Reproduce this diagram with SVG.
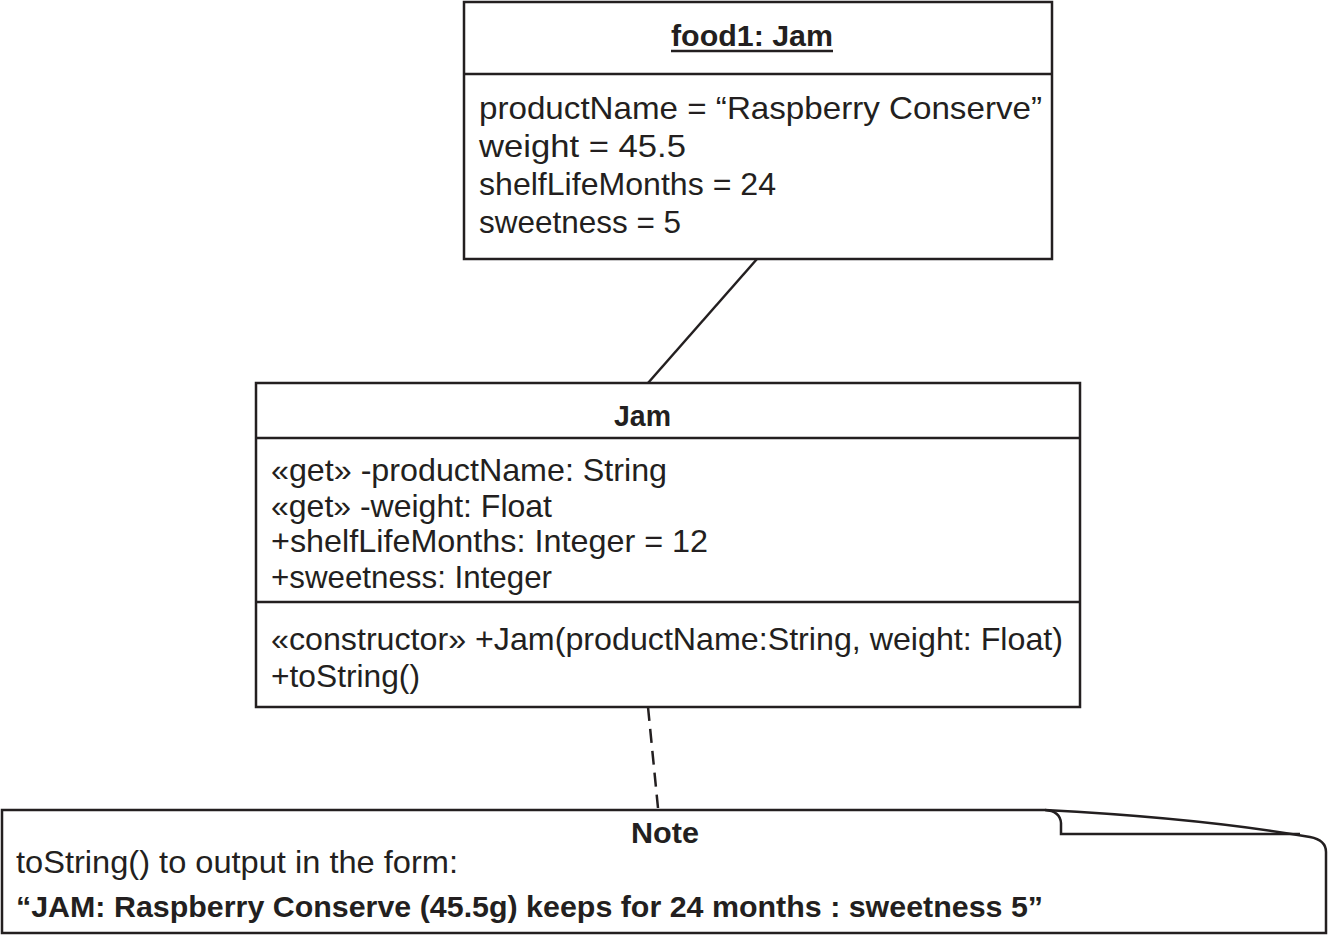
<svg xmlns="http://www.w3.org/2000/svg" width="1329" height="936" viewBox="0 0 1329 936">
<style>
.box{fill:#fff;stroke:#231f20;stroke-width:2.5}
.ln{fill:none;stroke:#231f20;stroke-width:2.5}
.t{font-family:"Liberation Sans",Arial,sans-serif;font-size:32px;fill:#231f20}
.b{font-family:"Liberation Sans",Arial,sans-serif;font-size:30px;font-weight:bold;fill:#231f20}
</style>
<rect width="1329" height="936" fill="#fff"/>
<g id="connectors">
<line class="ln" x1="757" y1="259" x2="648" y2="383"/>
<line class="ln" x1="648" y1="707" x2="658" y2="808" stroke-dasharray="14 8"/>
</g>
<g id="food1">
<rect class="box" x="464" y="2" width="588" height="257"/>
<line class="ln" x1="464" y1="74" x2="1052" y2="74"/>
<text class="b" x="671" y="46" textLength="162" lengthAdjust="spacingAndGlyphs">food1: Jam</text>
<line class="ln" x1="671" y1="51" x2="833" y2="51" stroke-width="2"/>
<text class="t" x="479" y="119" textLength="563" lengthAdjust="spacingAndGlyphs">productName = “Raspberry Conserve”</text>
<text class="t" x="479" y="157" textLength="207" lengthAdjust="spacingAndGlyphs">weight = 45.5</text>
<text class="t" x="479" y="195" textLength="297" lengthAdjust="spacingAndGlyphs">shelfLifeMonths = 24</text>
<text class="t" x="479" y="233" textLength="202" lengthAdjust="spacingAndGlyphs">sweetness = 5</text>
</g>
<g id="jam">
<rect class="box" x="256" y="383" width="824" height="324"/>
<line class="ln" x1="256" y1="438" x2="1080" y2="438"/>
<line class="ln" x1="256" y1="602" x2="1080" y2="602"/>
<text class="b" x="614" y="426" textLength="57" lengthAdjust="spacingAndGlyphs">Jam</text>
<text class="t" x="271" y="481" textLength="396" lengthAdjust="spacingAndGlyphs">«get» -productName: String</text>
<text class="t" x="271" y="517" textLength="281" lengthAdjust="spacingAndGlyphs">«get» -weight: Float</text>
<text class="t" x="271" y="552" textLength="437" lengthAdjust="spacingAndGlyphs">+shelfLifeMonths: Integer = 12</text>
<text class="t" x="271" y="588" textLength="281" lengthAdjust="spacingAndGlyphs">+sweetness: Integer</text>
<text class="t" x="271" y="650" textLength="792" lengthAdjust="spacingAndGlyphs">«constructor» +Jam(productName:String, weight: Float)</text>
<text class="t" x="271" y="687" textLength="149" lengthAdjust="spacingAndGlyphs">+toString()</text>
</g>
<g id="note">
<path class="box" d="M2,810 L1045,810 Q1200,818 1310,837 Q1326,840 1326,852 L1326,933 L2,933 Z"/>
<path class="ln" d="M1045,810 Q1060,811 1061,823 L1061,834 L1300,834"/>
<text class="b" x="631" y="843" textLength="68" lengthAdjust="spacingAndGlyphs">Note</text>
<text class="t" x="16" y="873" textLength="442" lengthAdjust="spacingAndGlyphs">toString() to output in the form:</text>
<text class="b" x="16" y="917" textLength="1027" lengthAdjust="spacingAndGlyphs">“JAM: Raspberry Conserve (45.5g) keeps for 24 months : sweetness 5”</text>
</g>
</svg>
